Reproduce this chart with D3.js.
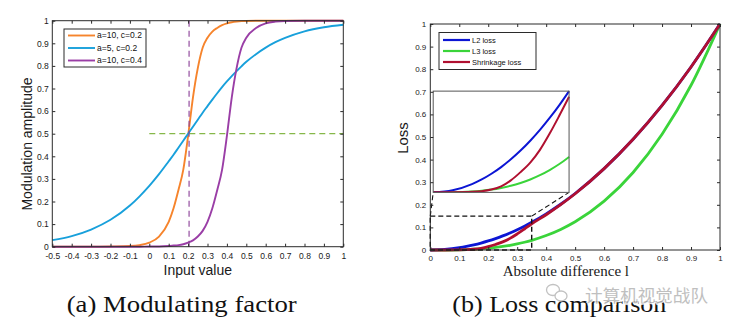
<!DOCTYPE html>
<html>
<head>
<meta charset="utf-8">
<script src="https://cdn.jsdelivr.net/npm/d3@7"></script>
<style>
  body { margin: 0; background: #fff; }
  text { font-family: "Liberation Sans", Arial, sans-serif; }
</style>
</head>
<body>
<script>
// ---- data ----
// (a) modulating factor
var inputX = [-0.5, -0.4, -0.3, -0.2, -0.1, -0.05, 0, 0.05, 0.1, 0.125, 0.15, 0.175, 0.2, 0.225, 0.25, 0.275,
              0.3, 0.325, 0.35, 0.375, 0.4, 0.425, 0.45, 0.475, 0.5, 0.55, 0.6, 0.65, 0.7, 0.8, 0.9, 1.0];
var orangeA10c02 = [0, 0, 0, 0.001, 0.003, 0.007, 0.018, 0.045, 0.11, 0.17, 0.25, 0.34, 0.49, 0.66, 0.79, 0.88,
                    0.925, 0.952, 0.968, 0.98, 0.988, 0.993, 0.996, 0.998, 0.999, 1, 1, 1, 1, 1, 1, 1];
var blueA5c02 = [0.029, 0.047, 0.076, 0.119, 0.182, 0.223, 0.269, 0.321, 0.378, 0.407, 0.438, 0.469, 0.5, 0.531, 0.562, 0.593,
                 0.622, 0.651, 0.679, 0.706, 0.731, 0.755, 0.777, 0.798, 0.818, 0.852, 0.881, 0.905, 0.924, 0.953, 0.971, 0.982];
var purpleA10c04 = [0, 0, 0, 0, 0, 0, 0.001, 0.001, 0.003, 0.005, 0.007, 0.011, 0.018, 0.028, 0.045, 0.07,
                    0.11, 0.17, 0.25, 0.34, 0.49, 0.66, 0.79, 0.88, 0.925, 0.968, 0.988, 0.996, 0.999, 1, 1, 1];
var legendA = ["a=10, c=0.2", "a=5, c=0.2", "a=10, c=0.4"];

// (b) loss comparison
var diffX = [0, 0.05, 0.1, 0.125, 0.15, 0.175, 0.2, 0.225, 0.25, 0.275, 0.3, 0.325, 0.35, 0.4, 0.45, 0.5, 0.6, 0.7, 0.8, 0.9, 1];
var l2Loss = [0, 0.0025, 0.01, 0.0156, 0.0225, 0.0306, 0.04, 0.0506, 0.0625, 0.0756, 0.09, 0.1056, 0.1225, 0.16, 0.2025, 0.25, 0.36, 0.49, 0.64, 0.81, 1];
var l3Loss = [0, 0.0001, 0.001, 0.002, 0.0034, 0.0054, 0.008, 0.0114, 0.0156, 0.0208, 0.027, 0.0343, 0.0429, 0.064, 0.0911, 0.125, 0.216, 0.343, 0.512, 0.729, 1];
var shrinkLoss = [0, 0.0001, 0.0006, 0.0014, 0.0034, 0.0073, 0.0145, 0.0245, 0.036, 0.0514, 0.0711, 0.0929, 0.1156, 0.156, 0.2005, 0.249, 0.36, 0.49, 0.64, 0.81, 1];
var legendB = ["L2 loss", "L3 loss", "Shrinkage loss"];

var ticksA = d3.range(-5, 11).map(function(i) { return i / 10; });
var ticks01 = d3.range(0, 11).map(function(i) { return i / 10; });

var svg = d3.select("body").append("svg").attr("width", 731).attr("height", 327);

function fmt(d) { return String(+d.toFixed(1)); }

// box + inward ticks on all four sides, matlab style
function drawAxes(g, x, y, xt, yt, fs, padx, pady)
{
  var b = y.range()[0], t = y.range()[1], l = x.range()[0], r = x.range()[1];
  g.append("g").attr("transform", "translate(0," + b + ")")
     .call(d3.axisBottom(x).tickValues(xt).tickSize(-3).tickPadding(padx).tickFormat(fmt));
  g.append("g").attr("transform", "translate(" + l + ",0)")
     .call(d3.axisLeft(y).tickValues(yt).tickSize(-3).tickPadding(pady).tickFormat(fmt));
  g.append("g").attr("transform", "translate(0," + t + ")")
     .call(d3.axisTop(x).tickValues(xt).tickSize(-3).tickFormat(""));
  g.append("g").attr("transform", "translate(" + r + ",0)")
     .call(d3.axisRight(y).tickValues(yt).tickSize(-3).tickFormat(""));
  g.selectAll(".domain").remove();
  g.selectAll(".tick line").attr("stroke", "#2b2b2b");
  g.selectAll(".tick text").attr("fill", "#1a1a1a").style("font-size", fs + "px")
     .style("font-family", "'Liberation Sans', Arial, sans-serif");
  g.append("rect").attr("x", l).attr("y", t).attr("width", r - l).attr("height", b - t)
     .attr("fill", "none").attr("stroke", "#2b2b2b").attr("stroke-width", 1);
}

function legend(g, x0, y0, w, rowy, names, colors, fs, lw)
{
  g.append("rect").attr("x", x0).attr("y", y0).attr("width", w).attr("height", rowy[2] - rowy[0] + 2 * (rowy[0] - y0))
    .attr("fill", "#fff").attr("stroke", "#2b2b2b").attr("stroke-width", 1);
  names.forEach(function(n, i) {
    g.append("line").attr("x1", x0 + 4).attr("x2", x0 + 31).attr("y1", rowy[i]).attr("y2", rowy[i])
      .attr("stroke", colors[i]).attr("stroke-width", lw);
    g.append("text").attr("x", x0 + 33).attr("y", rowy[i]).attr("dy", "0.35em")
      .style("font-size", fs + "px").attr("fill", "#111").text(n);
  });
}

// ---------- (a) ----------
var ga = svg.append("g");
var xa = d3.scaleLinear().domain([-0.5, 1]).range([52.3, 343.3]);
var ya = d3.scaleLinear().domain([0, 1]).range([246.7, 20.7]);
var lineA = function(vals) {
  return d3.line().curve(d3.curveMonotoneX)
    .x(function(d, i) { return xa(inputX[i]); })
    .y(function(d) { return ya(d); })(vals);
};
var colorsA = ["#f6842c", "#18a0db", "#9a3ea6"];
[orangeA10c02, blueA5c02, purpleA10c04].forEach(function(s, i) {
  ga.append("path").attr("d", lineA(s)).attr("fill", "none").attr("stroke", colorsA[i]).attr("stroke-width", 1.9);
});
// guide lines
ga.append("line").attr("x1", xa(0)).attr("x2", xa(1)).attr("y1", ya(0.5)).attr("y2", ya(0.5))
  .attr("stroke", "#86b84a").attr("stroke-width", 1.2).attr("stroke-dasharray", "6,4");
ga.append("line").attr("x1", xa(0.205)).attr("x2", xa(0.205)).attr("y1", ya(0)).attr("y2", ya(1))
  .attr("stroke", "#8a3c96").attr("stroke-width", 1.1).attr("stroke-dasharray", "6,4");
drawAxes(ga, xa, ya, ticksA, ticks01, 8.5, 6, 3.5);
legend(ga, 64, 29, 82, [35.5, 48, 60.5], legendA, colorsA, 8.5, 1.9);

ga.append("text").attr("x", 197.8).attr("y", 275).attr("text-anchor", "middle")
  .style("font-size", "14px").attr("fill", "#1a1a1a").text("Input value");
ga.append("text").attr("transform", "translate(32,144) rotate(-90)").attr("text-anchor", "middle")
  .style("font-size", "14px").attr("fill", "#1a1a1a").text("Modulation amplitude");

// ---------- (b) ----------
var gb = svg.append("g");
var xb = d3.scaleLinear().domain([0, 1]).range([430.3, 720]);
var yb = d3.scaleLinear().domain([0, 1]).range([250, 24]);
var colorsB = ["#0c16d4", "#3ad43a", "#b01030"];
function lineB(xs, ys, vals) {
  return d3.line().curve(d3.curveMonotoneX)
    .x(function(d, i) { return xs(diffX[i]); })
    .y(function(d) { return ys(d); })(vals);
}
[[l3Loss, 1], [l2Loss, 0], [shrinkLoss, 2]].forEach(function(p) {
  gb.append("path").attr("d", lineB(xb, yb, p[0])).attr("fill", "none")
    .attr("stroke", colorsB[p[1]]).attr("stroke-width", 2.8);
});

// zoom rectangle and inset
var zoomX = [0, 0.35], zoomY = [0, 0.15];
var insetX = [0.01, 0.479], insetY = [0.255, 0.703];
gb.append("rect").attr("x", xb(zoomX[0])).attr("y", yb(zoomY[1]))
  .attr("width", xb(zoomX[1]) - xb(zoomX[0])).attr("height", yb(zoomY[0]) - yb(zoomY[1]))
  .attr("fill", "none").attr("stroke", "#111").attr("stroke-width", 1.4).attr("stroke-dasharray", "5,3");
gb.append("line").attr("x1", xb(zoomX[0])).attr("y1", yb(zoomY[1])).attr("x2", xb(insetX[0])).attr("y2", yb(insetY[0]))
  .attr("stroke", "#111").attr("stroke-width", 1.1).attr("stroke-dasharray", "5,3");
gb.append("line").attr("x1", xb(zoomX[1])).attr("y1", yb(zoomY[1])).attr("x2", xb(insetX[1])).attr("y2", yb(insetY[0]))
  .attr("stroke", "#111").attr("stroke-width", 1.1).attr("stroke-dasharray", "5,3");

var xi = d3.scaleLinear().domain([0, 0.35]).range([xb(insetX[0]), xb(insetX[1])]);
var yi = d3.scaleLinear().domain([0, 0.1225]).range([yb(insetY[0]), yb(insetY[1])]);
gb.append("clipPath").attr("id", "insetclip").append("rect")
  .attr("x", xi.range()[0]).attr("y", yi.range()[1] - 2)
  .attr("width", xi.range()[1] - xi.range()[0] + 1).attr("height", yi.range()[0] - yi.range()[1] + 2);
gb.append("rect").attr("x", xi.range()[0]).attr("y", yi.range()[1])
  .attr("width", xi.range()[1] - xi.range()[0]).attr("height", yi.range()[0] - yi.range()[1])
  .attr("fill", "#fff");
var gi = gb.append("g").attr("clip-path", "url(#insetclip)");
[[l3Loss, 1], [l2Loss, 0], [shrinkLoss, 2]].forEach(function(p) {
  var n = diffX.filter(function(v) { return v <= 0.35; }).length;
  gi.append("path").attr("d", lineB(xi, yi, p[0].slice(0, n))).attr("fill", "none")
    .attr("stroke", colorsB[p[1]]).attr("stroke-width", 2);
});
gb.append("rect").attr("x", xi.range()[0]).attr("y", yi.range()[1])
  .attr("width", xi.range()[1] - xi.range()[0]).attr("height", yi.range()[0] - yi.range()[1])
  .attr("fill", "none").attr("stroke", "#555").attr("stroke-width", 1);

drawAxes(gb, xb, yb, ticks01, ticks01, 8, 5, 4);
legend(gb, 439, 32.5, 97, [40, 51, 62], legendB, colorsB, 7.5, 2.2);

gb.append("text").attr("x", 565.8).attr("y", 276).attr("text-anchor", "middle")
  .style("font-size", "15px").style("font-family", "'Liberation Serif', 'Times New Roman', serif")
  .attr("fill", "#1a1a1a").text("Absolute difference l");
gb.append("text").attr("transform", "translate(407.5,138) rotate(-90)").attr("text-anchor", "middle")
  .style("font-size", "15px").attr("fill", "#1a1a1a").text("Loss");

// ---------- captions ----------
svg.append("text").attr("x", 66.7).attr("y", 311.7).attr("textLength", 230).attr("lengthAdjust", "spacingAndGlyphs")
  .style("font-size", "24px").style("font-family", "'Liberation Serif', 'Times New Roman', serif")
  .attr("fill", "#111").text("(a) Modulating factor");
svg.append("text").attr("x", 452.3).attr("y", 311.7).attr("textLength", 214).attr("lengthAdjust", "spacingAndGlyphs")
  .style("font-size", "24px").style("font-family", "'Liberation Serif', 'Times New Roman', serif")
  .attr("fill", "#111").text("(b) Loss comparison");

// watermark (lies over the caption, as in the source)
var wm = svg.append("g").attr("opacity", 0.85);
wm.append("ellipse").attr("cx", 553).attr("cy", 290).attr("rx", 6.5).attr("ry", 5.5)
  .attr("fill", "#fff").attr("stroke", "#b8b8b8").attr("stroke-width", 1.3);
wm.append("ellipse").attr("cx", 561).attr("cy", 296).attr("rx", 6).attr("ry", 5)
  .attr("fill", "#fff").attr("stroke", "#b8b8b8").attr("stroke-width", 1.3);
wm.append("text").attr("x", 585).attr("y", 302).attr("textLength", 123).attr("lengthAdjust", "spacingAndGlyphs")
  .style("font-size", "17px").style("font-family", "'Noto Sans CJK SC', sans-serif")
  .attr("fill", "#b5b5b5").attr("stroke", "#fff").attr("stroke-width", 2.5).attr("paint-order", "stroke")
  .text("计算机视觉战队");
</script>
</body>
</html>
